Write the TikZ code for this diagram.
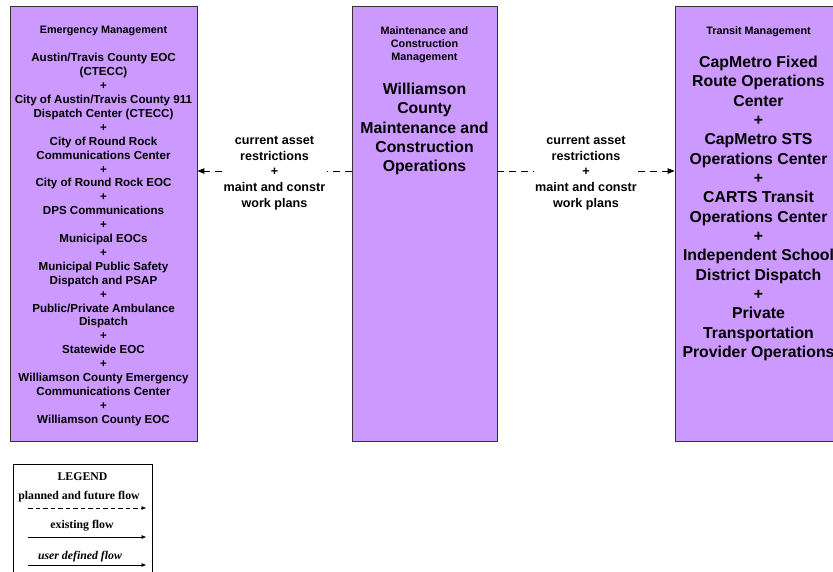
\documentclass[tikz,border=0pt]{standalone}
\usepackage{fontspec}
\setmainfont{Liberation Sans}
\newfontfamily\legendfont{Liberation Serif}
\usetikzlibrary{arrows.meta}
\definecolor{boxfill}{RGB}{204,153,255}
\definecolor{boxline}{RGB}{51,51,51}
\begin{document}
\begin{tikzpicture}[x=1pt,y=-1pt,
  sysbox/.style={draw=boxline, fill=boxfill, line width=0.8pt, inner sep=0pt, minimum height=435pt},
  hdr/.style={font=\bfseries\fontsize{10.8}{13}\selectfont, align=center, inner sep=0pt},
  lst/.style={font=\bfseries\fontsize{11.6}{13.9}\selectfont, align=center, inner sep=0pt},
  big/.style={font=\bfseries\fontsize{15.8}{19.33}\selectfont, align=center, inner sep=0pt},
  flowlbl/.style={font=\bfseries\fontsize{12.6}{15.8}\selectfont, align=center, inner sep=1.5pt},
  flow/.style={dashed, dash pattern=on 7pt off 5pt, line width=0.9pt, -{Triangle[length=7pt,width=5.5pt]}},
  flowplain/.style={dashed, dash pattern=on 7pt off 5pt, line width=0.9pt},
  legtxt/.style={font=\legendfont\bfseries\fontsize{11.8}{13}\selectfont, inner sep=0pt},
  legarrow/.style={line width=0.8pt, -{Triangle[length=4.5pt,width=3.5pt]}}]
\useasboundingbox (0,0) rectangle (833,571);
\clip (0,0) rectangle (833,571);
\fill[white] (0,0) rectangle (833,571);
% boxes
\node[sysbox, minimum width=187pt] (em) at (103.5,223.5) {};
\node[sysbox, minimum width=145pt] (mc) at (424.5,223.5) {};
\node[sysbox, minimum width=168pt] (tm) at (759,223.5) {};
% texts
\node[hdr] (emh) at (103.5,31) {Emergency Management};
\node[lst] (eml) at (103.5,239.5) {Austin/Travis County EOC\\(CTECC)\\+\\City of Austin/Travis County 911\\Dispatch Center (CTECC)\\+\\City of Round Rock\\Communications Center\\+\\City of Round Rock EOC\\+\\DPS Communications\\+\\Municipal EOCs\\+\\Municipal Public Safety\\Dispatch and PSAP\\+\\Public/Private Ambulance\\Dispatch\\+\\Statewide EOC\\+\\Williamson County Emergency\\Communications Center\\+\\Williamson County EOC};
\node[hdr] (mch) at (424.5,44.5) {Maintenance and\\Construction\\Management};
\node[big] (mcl) at (424.5,129) {Williamson\\County\\Maintenance and\\Construction\\Operations};
\node[hdr] (tmh) at (758.5,31.5) {Transit Management};
\node[big] (tml) at (758.5,208.5) {CapMetro Fixed\\Route Operations\\Center\\+\\CapMetro STS\\Operations Center\\+\\CARTS Transit\\Operations Center\\+\\Independent School\\District Dispatch\\+\\Private\\Transportation\\Provider Operations};
% flows
\node[flowlbl] (fl1) at (274.5,173) {current asset\\restrictions\\+\\maint and constr\\work plans};
\node[flowlbl] (fl2) at (586,173) {current asset\\restrictions\\+\\maint and constr\\work plans};
\coordinate (y1) at (274.5,171);
\coordinate (y2) at (586,171);
\draw[flowplain] (mc.west |- y1) -- (fl1.east |- y1);
\draw[flow] (fl1.west |- y1) -- (em.east |- y1);
\draw[flowplain] (mc.east |- y2) -- (fl2.west |- y2);
\draw[flow] (fl2.east |- y2) -- (tm.west |- y2);
% legend
\node[draw=black, line width=0.8pt, minimum width=139pt, minimum height=120pt, inner sep=0pt, anchor=north west] (leg) at (13,464) {};
\node[legtxt] (legt) at (82.5,477) {LEGEND};
\node[legtxt] (lg1) at (79,497) {planned and future flow};
\coordinate (a1s) at (28,508);
\coordinate (a1e) at (146,508);
\draw[legarrow, dashed, dash pattern=on 4.5pt off 3pt] (a1s) -- (a1e);
\node[legtxt] (lg2) at (82,526) {existing flow};
\coordinate (a2s) at (28,537);
\coordinate (a2e) at (146,537);
\draw[legarrow] (a2s) -- (a2e);
\node[legtxt, font=\legendfont\bfseries\itshape\fontsize{11.8}{13}\selectfont] (lg3) at (80,557) {user defined flow};
\coordinate (a3s) at (28,565);
\coordinate (a3e) at (146,565);
\draw[legarrow] (a3s) -- (a3e);
\end{tikzpicture}
\end{document}
